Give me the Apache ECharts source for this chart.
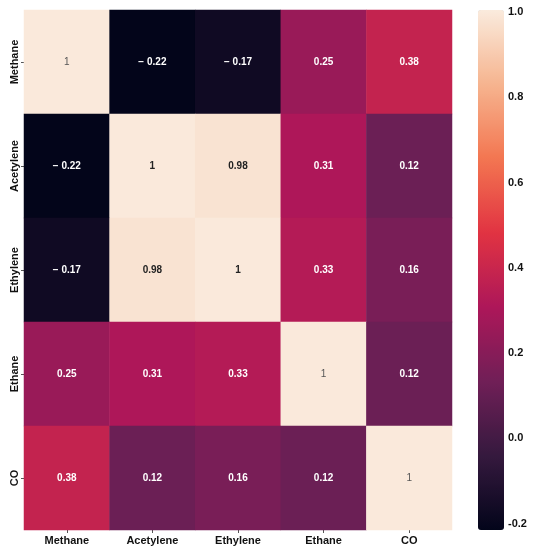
<!DOCTYPE html>
<html><head><meta charset="utf-8">
<script src="https://cdn.jsdelivr.net/npm/echarts@6/dist/echarts.min.js"></script>
<style>html,body{margin:0;padding:0;background:#fff}#c{width:536px;height:550px}</style>
</head><body><div id="c"></div>
<script>
const categories = ['Methane', 'Acetylene', 'Ethylene', 'Ethane', 'CO'];
const rowMethane   = [1, -0.22, -0.17, 0.25, 0.38];
const rowAcetylene = [-0.22, 1, 0.98, 0.31, 0.12];
const rowEthylene  = [-0.17, 0.98, 1, 0.33, 0.16];
const rowEthane    = [0.25, 0.31, 0.33, 1, 0.12];
const rowCO        = [0.38, 0.12, 0.16, 0.12, 1];
const colorbarTicks = [-0.2, 0.0, 0.2, 0.4, 0.6, 0.8, 1.0];
const vMin = -0.215, vMax = 1.005;

const rows = [rowMethane, rowAcetylene, rowEthylene, rowEthane, rowCO];
const rocket = ['#03051a','#35193e','#701f57','#ad1759','#e13342','#f37651','#f6b48f','#faebdd'];
const plainDiag = [0, 3, 4];
const font = '"Liberation Sans", Arial, sans-serif';

function fmt(v){
  if (v === 1) return '1';
  if (v < 0) return '\u2212 ' + Math.abs(v).toFixed(2);
  return v.toFixed(2);
}
const data = [];
rows.forEach((r, yi) => r.forEach((v, xi) => {
  const light = v > 0.7;
  const plain = xi === yi && plainDiag.includes(xi);
  data.push({
    value: [xi, yi, v],
    label: {
      color: light ? (plain ? '#555' : '#222') : '#fff',
      fontWeight: plain ? 'normal' : 'bold'
    }
  });
}));

const chart = echarts.init(document.getElementById('c'));
chart.setOption({
  backgroundColor: '#fff',
  animation: false,
  grid: [
    {left: 24, top: 10, width: 428, height: 520},
    {left: 478, top: 10, width: 26, height: 520}
  ],
  xAxis: [
    {type: 'category', data: categories, gridIndex: 0,
     axisLine: {show: false}, splitLine: {show: false},
     axisTick: {show: true, alignWithLabel: true, length: 3, lineStyle: {color: '#555'}},
     axisLabel: {fontFamily: font, fontWeight: 'bold', fontSize: 11, color: '#111', margin: 5}},
    {type: 'value', gridIndex: 1, show: false, min: 0, max: 1}
  ],
  yAxis: [
    {type: 'category', data: categories, gridIndex: 0, inverse: true,
     axisLine: {show: false}, splitLine: {show: false},
     axisTick: {show: true, alignWithLabel: true, length: 3, lineStyle: {color: '#555'}},
     axisLabel: {fontFamily: font, fontWeight: 'bold', fontSize: 11, color: '#111', rotate: 90, margin: 4}},
    {type: 'value', gridIndex: 1, position: 'right', min: vMin, max: vMax,
     axisLine: {show: false}, splitLine: {show: false},
     axisTick: {show: true, length: 3, customValues: colorbarTicks, lineStyle: {color: '#555'}},
     axisLabel: {customValues: colorbarTicks, formatter: v => v.toFixed(1),
       fontFamily: font, fontWeight: 'bold', fontSize: 11, color: '#111', margin: 4}}
  ],
  visualMap: {
    type: 'continuous', min: vMin, max: vMax, seriesIndex: 0,
    left: 478, top: 10, itemWidth: 26, itemHeight: 520, padding: 0,
    calculable: false, realtime: false, showLabel: false, text: null,
    inRange: {color: rocket}
  },
  series: [{
    type: 'heatmap', xAxisIndex: 0, yAxisIndex: 0, data: data,
    label: {show: true, fontFamily: font, fontSize: 10, formatter: p => fmt(p.value[2])},
    itemStyle: {borderWidth: 0}
  }]
});
</script></body></html>
